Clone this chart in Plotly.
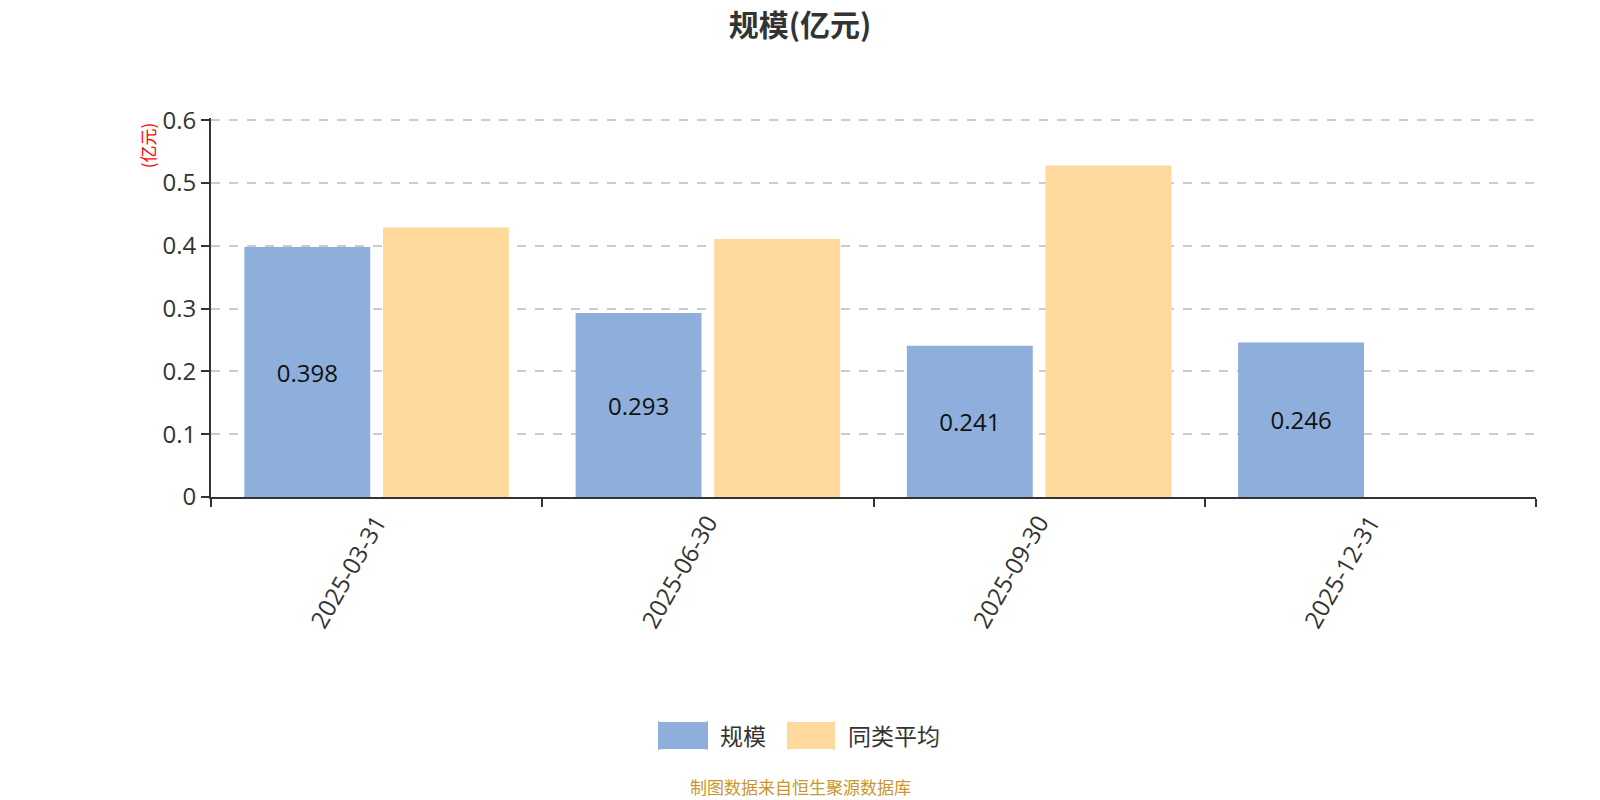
import plotly.graph_objects as go

categories = ["2025-03-31", "2025-06-30", "2025-09-30", "2025-12-31"]
scale_vals = [0.398, 0.293, 0.241, 0.246]
peer_avg = [0.429, 0.411, 0.528, None]
scale_labels = ["0.398", "0.293", "0.241", "0.246"]
y_ticks = [0, 0.1, 0.2, 0.3, 0.4, 0.5, 0.6]
y_tick_text = ["0", "0.1", "0.2", "0.3", "0.4", "0.5", "0.6"]

FONT = "Open Sans, Noto Sans CJK SC, sans-serif"
CJK = "Noto Sans CJK SC, sans-serif"
BLUE = "#8eaedb"
ORANGE = "#fed99b"

fig = go.Figure()
fig.add_trace(go.Bar(
    x=categories, y=scale_vals, name="规模", marker=dict(color=BLUE, line_width=0),
    text=scale_labels, textposition="inside", insidetextanchor="middle",
    textfont=dict(family=FONT, size=24, color="#111111"), showlegend=False,
))
fig.add_trace(go.Bar(
    x=categories, y=peer_avg, name="同类平均", marker=dict(color=ORANGE, line_width=0),
    showlegend=False, textposition="none",
))

fig.update_layout(
    width=1600, height=800,
    margin=dict(l=211, r=64, t=118, b=303),
    paper_bgcolor="white", plot_bgcolor="white",
    barmode="group", bargap=0.163, bargroupgap=0.092,
    font=dict(family=FONT, color="#333333"),
    title=dict(text="<b>规模(亿元)</b>", x=0.5, xanchor="center", y=0.968, yanchor="middle",
               font=dict(family=CJK, size=30, color="#333333")),
    xaxis=dict(
        type="category", tickson="boundaries", ticks="outside", ticklen=8, tickwidth=2,
        tickcolor="#333333", showline=True, linecolor="#333333", linewidth=2,
        tickangle=-60, tickfont=dict(family=FONT, size=24, color="#333333"),
        showgrid=False, zeroline=False,
    ),
    yaxis=dict(
        range=[0, 0.6035], tickvals=y_ticks, ticktext=y_tick_text,
        ticks="outside", ticklen=8, tickwidth=2, tickcolor="#333333",
        showline=True, linecolor="#333333", linewidth=2,
        tickfont=dict(family=FONT, size=24, color="#333333"),
        showgrid=True, gridcolor="#cccccc", griddash="dash", gridwidth=1.5,
        zeroline=False,
    ),
)

# y-axis unit label
fig.add_annotation(text="(亿元)", xref="paper", yref="paper", x=-0.048, y=0.995,
                   xanchor="center", yanchor="top", textangle=-90, showarrow=False,
                   font=dict(family=CJK, size=17, color="#ff0000"))

# custom legend
def px_x(p):
    return (p - 211) / (1600 - 211 - 64)

def px_y(p):
    return (497 - p) / (497 - 118)

def rounded_rect(x0, y0, x1, y1, r=5):
    return (f"M {x0+r},{y0} L {x1-r},{y0} Q {x1},{y0} {x1},{y0+r} L {x1},{y1-r} "
            f"Q {x1},{y1} {x1-r},{y1} L {x0+r},{y1} Q {x0},{y1} {x0},{y1-r} "
            f"L {x0},{y0+r} Q {x0},{y0} {x0+r},{y0} Z")

legend_items = [("规模", BLUE, 658, 708, 718), ("同类平均", ORANGE, 787, 835, 846)]
for name, color, sx0, sx1, tx in legend_items:
    fig.add_shape(type="path", xref="paper", yref="paper",
                  path=rounded_rect(px_x(sx0), px_y(722), px_x(sx1), px_y(749), r=0.004),
                  fillcolor=color, line_width=0, layer="above")
    fig.add_annotation(text=name, xref="paper", yref="paper", x=px_x(tx), y=px_y(735),
                       xanchor="left", yanchor="middle", showarrow=False,
                       font=dict(family=CJK, size=23, color="#333333"))

fig.add_annotation(text="制图数据来自恒生聚源数据库", xref="paper", yref="paper",
                   x=px_x(800), y=px_y(786), xanchor="center", yanchor="middle",
                   showarrow=False, font=dict(family=CJK, size=17, color="#c9962b"))

fig.write_html("out.html")
